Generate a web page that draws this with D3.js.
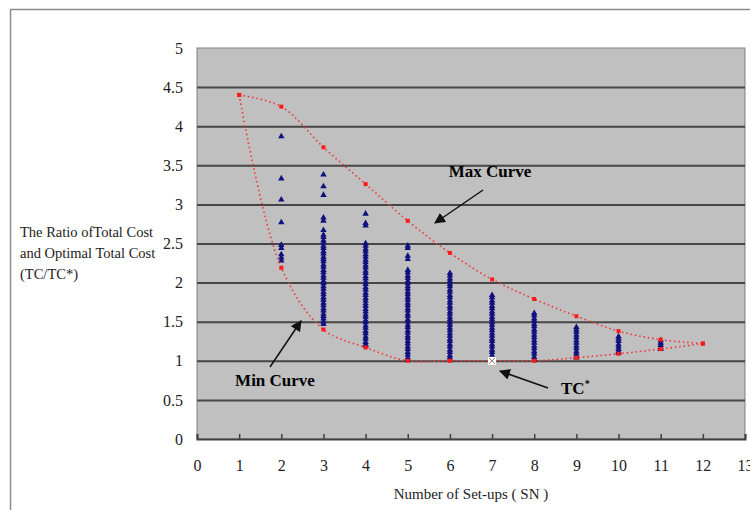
<!DOCTYPE html>
<html>
<head>
<meta charset="utf-8">
<script src="https://cdn.jsdelivr.net/npm/d3@7"></script>
<style>
  body { margin: 0; background: #fff; }
  svg { display: block; }
  .tick text { font-family: "Liberation Serif", "DejaVu Serif", serif; font-size: 16px; fill: #222; }
</style>
</head>
<body>
<svg id="chart" width="750" height="510"></svg>
<script>
// set-up counts on the x axis
const setups = [1, 2, 3, 4, 5, 6, 7, 8, 9, 10, 11, 12];
const maxCurve = [4.40, 4.25, 3.73, 3.26, 2.79, 2.38, 2.04, 1.79, 1.57, 1.38, 1.27, 1.22];
const minCurve = [4.40, 2.19, 1.40, 1.17, 1.00, 1.00, 1.00, 1.00, 1.04, 1.09, 1.15, 1.22];
const optimum = { sn: 7, ratio: 1.0 };

// TC/TC* of every sampled schedule, per number of set-ups
const sn2 = [3.87, 3.33, 3.06, 2.77, 2.48, 2.44, 2.36, 2.32, 2.28];
const sn3 = [3.38, 3.23, 3.12, 2.83, 2.79, 2.67, 2.61, 2.58, 2.54, 2.51, 2.47, 2.44, 2.40, 2.37,
  2.33, 2.30, 2.27, 2.23, 2.20, 2.16, 2.13, 2.09, 2.06, 2.02, 1.99, 1.95, 1.92, 1.88, 1.85,
  1.81, 1.78, 1.74, 1.71, 1.67, 1.64, 1.60, 1.57, 1.54, 1.50, 1.47];
const sn4 = [2.88, 2.76, 2.73, 2.50, 2.47, 2.43, 2.40, 2.36, 2.33, 2.29, 2.26, 2.22, 2.19, 2.15,
  2.12, 2.08, 2.05, 2.01, 1.98, 1.94, 1.91, 1.87, 1.84, 1.80, 1.77, 1.73, 1.70, 1.66, 1.63,
  1.59, 1.56, 1.52, 1.49, 1.45, 1.42, 1.38, 1.35, 1.31, 1.28, 1.24, 1.21, 1.19];
const sn5 = [2.47, 2.44, 2.34, 2.30, 2.16, 2.13, 2.09, 2.06, 2.02, 1.99, 1.95, 1.92, 1.88, 1.85,
  1.81, 1.78, 1.74, 1.71, 1.67, 1.64, 1.60, 1.57, 1.53, 1.50, 1.46, 1.43, 1.39, 1.36, 1.32,
  1.29, 1.25, 1.22, 1.18, 1.15, 1.11, 1.08, 1.04, 1.01];
const sn6 = [2.12, 2.09, 2.05, 2.02, 1.98, 1.95, 1.91, 1.88, 1.84, 1.81, 1.77, 1.74, 1.70, 1.67,
  1.63, 1.60, 1.56, 1.53, 1.49, 1.46, 1.42, 1.39, 1.35, 1.32, 1.28, 1.25, 1.21, 1.18, 1.14,
  1.11, 1.07, 1.04, 1.01];
const sn7 = [1.84, 1.81, 1.77, 1.74, 1.70, 1.67, 1.63, 1.60, 1.56, 1.53, 1.49, 1.46, 1.42, 1.39,
  1.35, 1.32, 1.28, 1.25, 1.21, 1.18, 1.14, 1.11, 1.07, 1.04, 1.01];
const sn8 = [1.61, 1.58, 1.54, 1.51, 1.47, 1.44, 1.40, 1.37, 1.33, 1.30, 1.26, 1.23, 1.19, 1.16,
  1.12, 1.09, 1.05, 1.02];
const sn9 = [1.43, 1.40, 1.37, 1.33, 1.30, 1.26, 1.23, 1.19, 1.16, 1.12, 1.09, 1.06, 1.04];
const sn10 = [1.31, 1.28, 1.25, 1.21, 1.18, 1.15, 1.12, 1.10];
const sn11 = [1.26, 1.23, 1.20, 1.17, 1.15];

const samples = [[2, sn2], [3, sn3], [4, sn4], [5, sn5], [6, sn6], [7, sn7],
  [8, sn8], [9, sn9], [10, sn10], [11, sn11]];

const xTicks = d3.range(0, 14);
const yTicks = [0, 0.5, 1, 1.5, 2, 2.5, 3, 3.5, 4, 4.5, 5];

const margin = { top: 48, right: 5, bottom: 71, left: 197 };

const svg = d3.select("#chart");
const width = +svg.attr("width");
const height = +svg.attr("height");
const innerWidth = width - margin.left - margin.right;
const innerHeight = height - margin.top - margin.bottom;

// outer frame of the figure (left and top edges show)
svg.append("path")
  .attr("d", "M10.5,512 V9.5 H752")
  .attr("fill", "none")
  .attr("stroke", "#8c8c8c")
  .attr("stroke-width", 1.5);

const x = d3.scaleLinear().domain([0, 13]).range([0, innerWidth]);
const y = d3.scaleLinear().domain([0, 5]).range([innerHeight, 0]);

const g = svg.append("g")
  .attr("transform", `translate(${margin.left}, ${margin.top})`);

g.append("rect")
  .attr("width", innerWidth)
  .attr("height", innerHeight)
  .attr("fill", "#c0c0c0")
  .attr("stroke", "#808080");

// gridlines
g.append("g")
  .call(d3.axisLeft(y).tickValues(yTicks.slice(1, -1)).tickSize(-innerWidth).tickFormat(""))
  .call((s) => s.select(".domain").remove())
  .selectAll("line")
  .attr("stroke", "#464646")
  .attr("stroke-width", 2);

// y axis labels
g.append("g")
  .call(d3.axisLeft(y).tickValues(yTicks).tickSize(0).tickPadding(14).tickFormat(d3.format("")))
  .call((s) => s.select(".domain").remove());

// x axis with inward ticks
const xAxis = g.append("g")
  .attr("transform", `translate(0, ${innerHeight})`)
  .call(d3.axisBottom(x).tickValues(xTicks).tickSize(-5).tickPadding(21));
xAxis.select(".domain").attr("stroke", "#404040").attr("stroke-width", 2);
xAxis.selectAll("line").attr("stroke", "#404040").attr("stroke-width", 1.5);

// sampled schedules as navy triangles
const points = samples.flatMap(([sn, vals]) => vals.map((v) => ({ sn, v })));
const tri = d3.symbol().type(d3.symbolTriangle).size(18);
g.append("g")
  .selectAll("path")
  .data(points)
  .enter()
  .append("path")
  .attr("d", tri)
  .attr("transform", (d) => `translate(${x(d.sn)}, ${y(d.v)})`)
  .attr("fill", "#10107f");

// max and min curves
const line = d3.line()
  .x((d) => x(d[0]))
  .y((d) => y(d[1]))
  .curve(d3.curveCatmullRom.alpha(0.5));

[maxCurve, minCurve].forEach((vals) => {
  const pts = setups.map((s, i) => [s, vals[i]]);
  g.append("path")
    .datum(pts)
    .attr("d", line)
    .attr("fill", "none")
    .attr("stroke", "#ee3b3b")
    .attr("stroke-width", 1.6)
    .attr("stroke-dasharray", "1.6,2.8");
  g.append("g")
    .selectAll("rect")
    .data(pts)
    .enter()
    .append("rect")
    .attr("x", (d) => x(d[0]) - 2)
    .attr("y", (d) => y(d[1]) - 2)
    .attr("width", 4)
    .attr("height", 4)
    .attr("fill", "#ff1a1a");
});

// TC* marker
const ox = x(optimum.sn), oy = y(optimum.ratio);
g.append("rect")
  .attr("x", ox - 4).attr("y", oy - 4)
  .attr("width", 8).attr("height", 8)
  .attr("fill", "#fff");
g.append("path")
  .attr("d", `M${ox - 3},${oy - 3}L${ox + 3},${oy + 3}M${ox - 3},${oy + 3}L${ox + 3},${oy - 3}`)
  .attr("stroke", "#777")
  .attr("stroke-width", 1);

// annotations
svg.append("defs").append("marker")
  .attr("id", "head")
  .attr("viewBox", "0 0 10 10")
  .attr("refX", 9).attr("refY", 5)
  .attr("markerWidth", 11).attr("markerHeight", 11)
  .attr("markerUnits", "userSpaceOnUse")
  .attr("orient", "auto")
  .append("path")
  .attr("d", "M0,0L10,5L0,10z")
  .attr("fill", "#111");

const arrows = [
  [483, 190, 435, 223],
  [270, 367, 301, 321],
  [548, 388, 500, 371]
];
svg.append("g")
  .selectAll("line")
  .data(arrows)
  .enter()
  .append("line")
  .attr("x1", (d) => d[0]).attr("y1", (d) => d[1])
  .attr("x2", (d) => d[2]).attr("y2", (d) => d[3])
  .attr("stroke", "#111")
  .attr("stroke-width", 1.5)
  .attr("marker-end", "url(#head)");

const serif = "'Liberation Serif', 'DejaVu Serif', serif";
svg.append("text")
  .attr("x", 490).attr("y", 177)
  .attr("text-anchor", "middle")
  .attr("font-family", serif).attr("font-size", 17).attr("font-weight", "bold")
  .text("Max Curve");
svg.append("text")
  .attr("x", 275).attr("y", 386)
  .attr("text-anchor", "middle")
  .attr("font-family", serif).attr("font-size", 17).attr("font-weight", "bold")
  .text("Min Curve");
const tc = svg.append("text")
  .attr("x", 561).attr("y", 394)
  .attr("font-family", serif).attr("font-size", 17).attr("font-weight", "bold");
tc.append("tspan").text("TC");
tc.append("tspan").attr("dy", -7).attr("font-size", 10).text("*");

// axis titles
const yTitle = ["The Ratio ofTotal Cost", "and Optimal Total Cost", "(TC/TC*)"];
svg.append("g")
  .selectAll("text")
  .data(yTitle)
  .enter()
  .append("text")
  .attr("x", 20)
  .attr("y", (d, i) => 237 + i * 21)
  .attr("font-family", serif).attr("font-size", 14.5)
  .attr("fill", "#222")
  .text((d) => d);

svg.append("text")
  .attr("x", 471).attr("y", 499)
  .attr("text-anchor", "middle")
  .attr("font-family", serif).attr("font-size", 15)
  .attr("fill", "#222")
  .text("Number of Set-ups ( SN )");
</script>
</body>
</html>
